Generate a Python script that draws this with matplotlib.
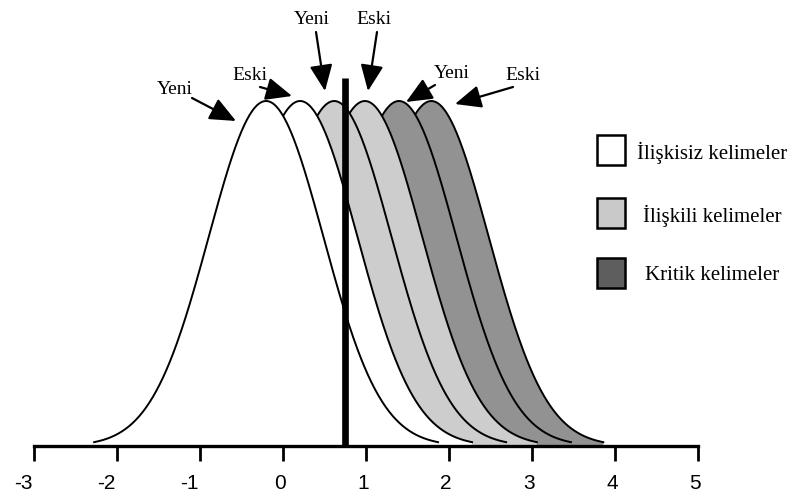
import numpy as np
import matplotlib
matplotlib.use("Agg")
import matplotlib.pyplot as plt
import matplotlib.transforms as mtransforms
from matplotlib.patches import Rectangle

# curve data (peak positions of the six distributions, left to right)
curve_means = [-0.2, 0.21, 0.62, 0.99, 1.4, 1.79]
curve_sd = 0.69
curve_fill = ["white", "white", "#cdcdcd", "#cdcdcd", "#929292", "#929292"]
criterion = 0.75

curve_labels = ["Yeni", "Eski", "Yeni", "Eski", "Yeni", "Eski"]
# label position and arrow (tail, tip), in image pixels from top-left
label_pos = [(175, 89), (250, 75), (312, 19), (374, 19), (452, 73), (523, 75)]
arrow_tail = [(192, 98), (260, 87), (316, 32), (377, 32), (435, 85), (513, 87)]
arrow_tip = [(236, 121), (292, 96), (325, 91), (368, 91), (406, 102), (455, 104)]

legend_names = ["İlişkisiz kelimeler", "İlişkili kelimeler", "Kritik kelimeler"]
legend_colors = ["white", "#c9c9c9", "#5e5e5e"]

xticks = [-3, -2, -1, 0, 1, 2, 3, 4, 5]
xtick_labels = ["-3", "-2", "-1", "0", "1", "2", "3", "4", "5"]

W, H = 795, 504
fig = plt.figure(figsize=(W / 100, H / 100), dpi=100)

# axes placement: x=-3 at px 33.5, x=5 at px 698, y=0 at px 446, y=1 at px 101
ymax = 1.25
left, right = 33.5 / W, 698 / W
bottom = (H - 446) / H
height = 345 * ymax / H
ax = fig.add_axes([left, bottom, right - left, height])
ax.set_xlim(-3, 5)
ax.set_ylim(0, ymax)

# rightmost curve first so that left curves sit on top
n = len(curve_means)
for i in range(n - 1, -1, -1):
    mu = curve_means[i]
    xs = np.linspace(mu - 3.0 * curve_sd, mu + 3.0 * curve_sd, 400)
    ys = np.exp(-0.5 * ((xs - mu) / curve_sd) ** 2)
    ax.fill_between(xs, 0, ys, facecolor=curve_fill[i], edgecolor="none", zorder=2 + 2 * (n - i))
    ax.plot(xs, ys, color="black", lw=1.4, zorder=3 + 2 * (n - i))

ax.plot([criterion, criterion], [0, 1.067], color="black", lw=4.8, solid_capstyle="butt", zorder=40)

for s in ["top", "right", "left"]:
    ax.spines[s].set_visible(False)
ax.spines["bottom"].set_linewidth(2.4)
ax.spines["bottom"].set_zorder(30)
ax.set_yticks([])
ax.set_xticks(xticks)
ax.set_xticklabels(xtick_labels, fontsize=15, family="Liberation Sans")
ax.tick_params(axis="x", direction="out", length=11, width=2, pad=9)
ax.patch.set_alpha(0)

# shift tick labels slightly left like the original
for v, lab in zip(xticks, ax.get_xticklabels()):
    dx = -10 if v < 0 else -3
    lab.set_transform(lab.get_transform() + mtransforms.ScaledTranslation(dx / 100, 0, fig.dpi_scale_trans))

# labels and arrows
for name, (lx, ly), (tx, ty), (hx, hy) in zip(curve_labels, label_pos, arrow_tail, arrow_tip):
    fig.text(lx / W, 1 - ly / H, name, ha="center", va="center", fontsize=14, family="Liberation Serif")
    ax.annotate("", xy=(hx, H - hy), xycoords="figure pixels",
                xytext=(tx, H - ty), textcoords="figure pixels",
                arrowprops=dict(arrowstyle="-|>,head_length=0.8,head_width=0.35",
                                mutation_scale=20, lw=1.6, color="black",
                                shrinkA=0, shrinkB=0))

# legend
box_y = [135, 198, 258]
for name, col, y in zip(legend_names, legend_colors, box_y):
    fig.patches.append(Rectangle((597 / W, 1 - (y + 30) / H), 28 / W, 30 / H,
                                 facecolor=col, edgecolor="black", lw=1.8,
                                 transform=fig.transFigure, figure=fig))
    fig.text(712 / W, 1 - (y + 18) / H, name, ha="center", va="center", fontsize=15,
             family="Liberation Serif")

fig.savefig("out.png", dpi=100)
